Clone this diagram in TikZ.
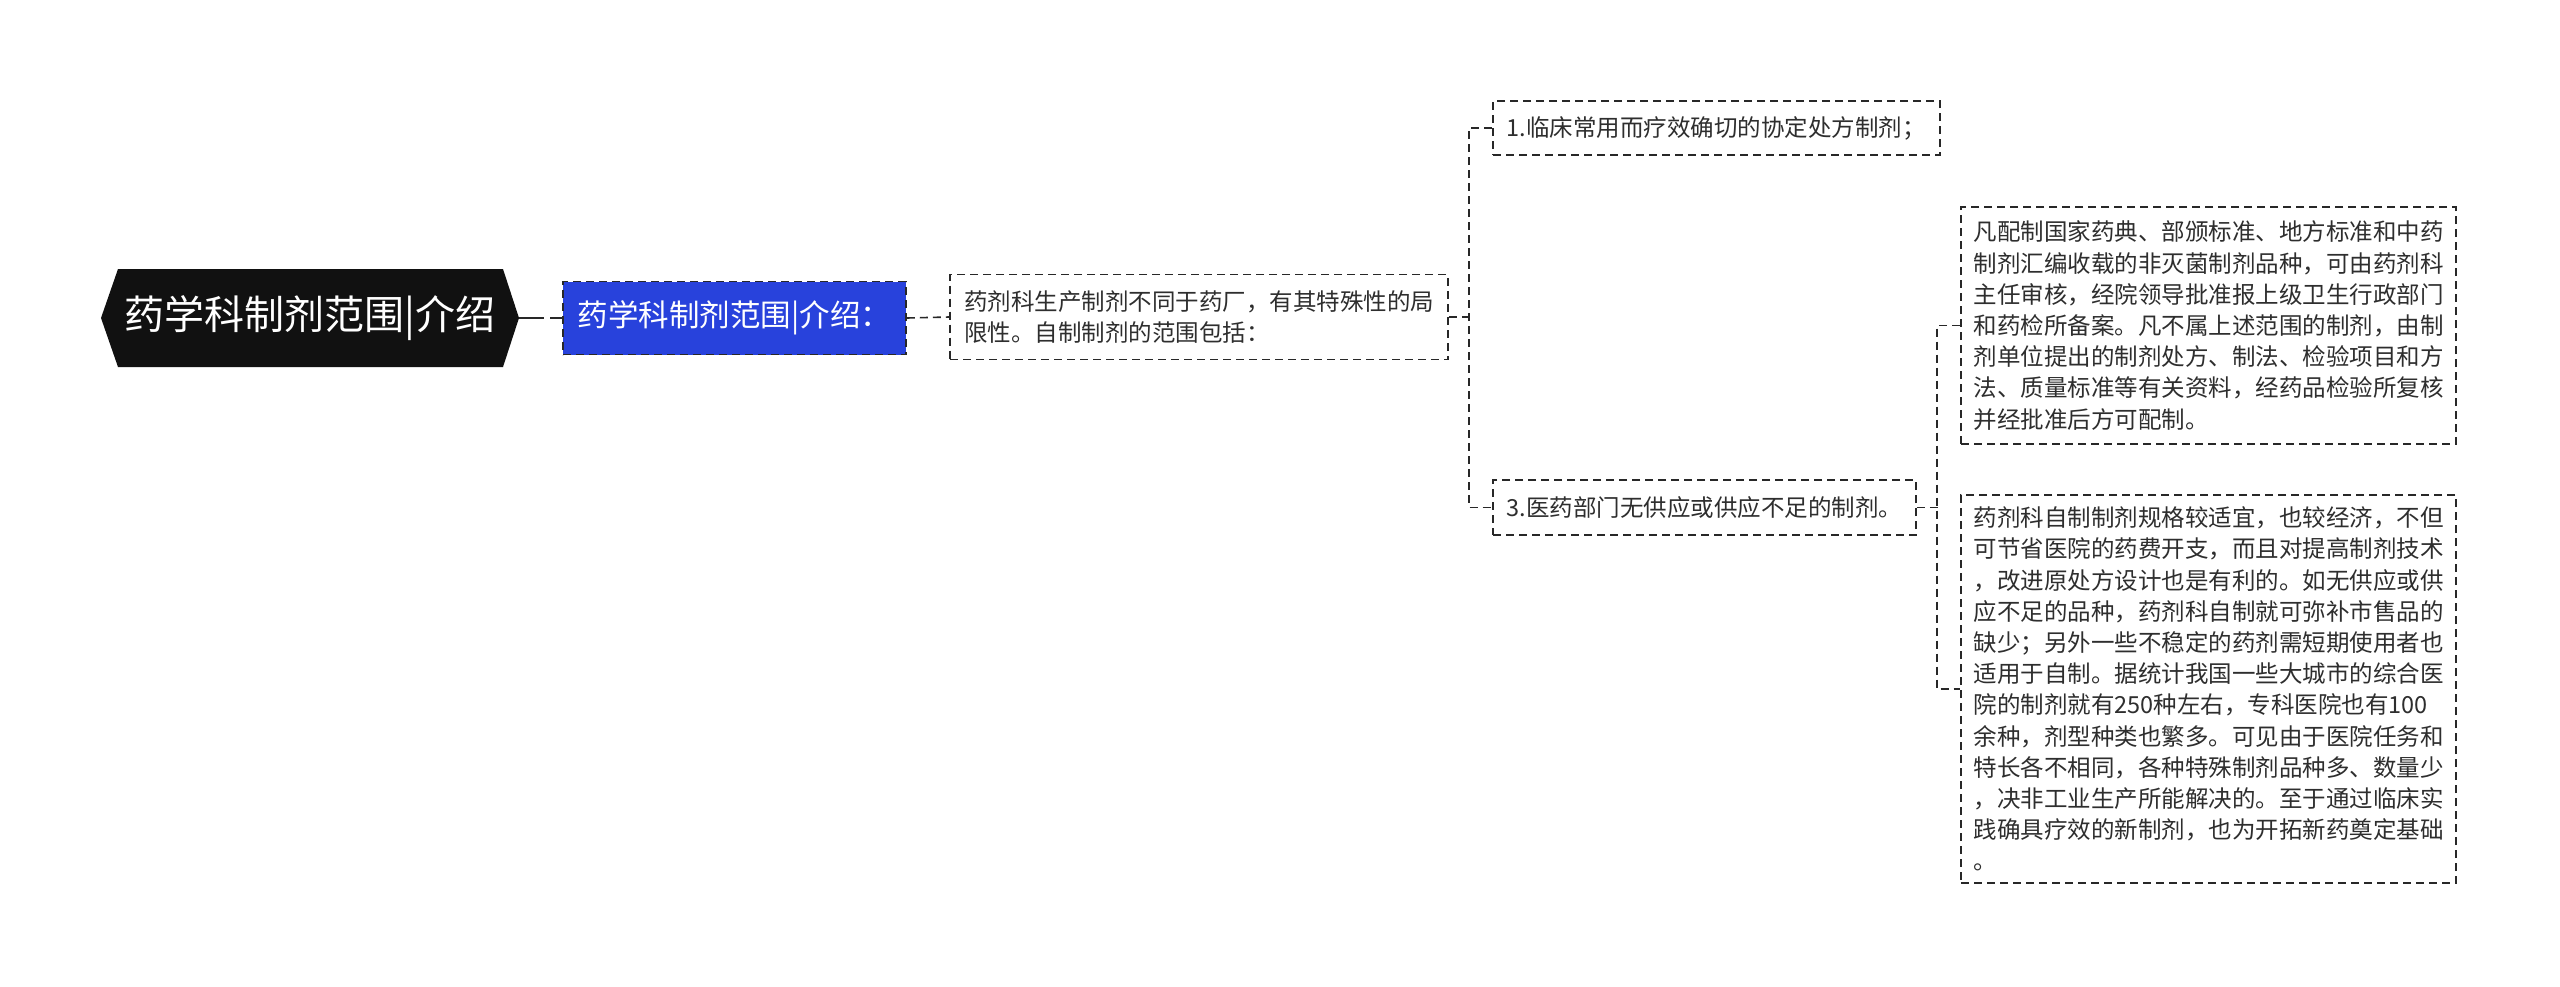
\documentclass[tikz,border=0pt]{standalone}
\usepackage{fontspec}
\setmainfont{Noto Sans CJK SC}
\definecolor{rootfill}{RGB}{17,17,17}
\definecolor{bluefill}{RGB}{40,66,220}
\definecolor{linec}{RGB}{40,40,40}
\tikzset{
  dline/.style={draw=linec, line width=1.6pt, dash pattern=on 8pt off 5pt},
  leaf/.style={dline, fill=white, inner sep=0pt, align=left, font=\fontsize{23.5}{31.2}\selectfont, text=black!82},
  conn/.style={draw=linec, line width=1.6pt, dash pattern=on 8pt off 5pt},
}
\begin{document}
\begin{tikzpicture}[x=1pt,y=-1pt]
\useasboundingbox (0,0) rectangle (2560,986);
% root hexagon
\fill[rootfill] (101,318) -- (118,269) -- (503,269) -- (519,318) -- (503,367) -- (118,367) -- cycle;
\node[text=white, font=\fontsize{40}{44}\selectfont] (root) at (310,318) {药学科制剂范围|介绍};
\coordinate (rootE) at (519,318);
% blue node
\node[draw=linec, line width=1.6pt, dash pattern=on 8pt off 5pt, fill=bluefill, minimum width=343pt, minimum height=73pt, inner sep=0pt, text=white, font=\fontsize{30.5}{34}\selectfont] (blue) at (734.5,318) {药学科制剂范围|介绍：};
% node3
\node[leaf, minimum width=498pt, minimum height=85pt, text width=470pt] (n3) at (1199,317) {药剂科生产制剂不同于药厂，有其特殊性的局\\限性。自制制剂的范围包括：};
% box 1
\node[leaf, minimum width=447pt, minimum height=54pt, text width=420pt] (b1) at (1716.5,128) {1.临床常用而疗效确切的协定处方制剂；};
% box 3
\node[leaf, minimum width=423pt, minimum height=55pt, text width=396pt] (b3) at (1704.5,507.5) {3.医药部门无供应或供应不足的制剂。};
% box A
\node[leaf, minimum width=495pt, minimum height=237pt, text width=470pt] (ba) at (2208.5,325.5) {凡配制国家药典、部颁标准、地方标准和中药\\制剂汇编收载的非灭菌制剂品种，可由药剂科\\主任审核，经院领导批准报上级卫生行政部门\\和药检所备案。凡不属上述范围的制剂，由制\\剂单位提出的制剂处方、制法、检验项目和方\\法、质量标准等有关资料，经药品检验所复核\\并经批准后方可配制。};
% box B
\node[leaf, minimum width=495pt, minimum height=388pt, text width=470pt] (bb) at (2208.5,689) {药剂科自制制剂规格较适宜，也较经济，不但\\可节省医院的药费开支，而且对提高制剂技术\\，改进原处方设计也是有利的。如无供应或供\\应不足的品种，药剂科自制就可弥补市售品的\\缺少；另外一些不稳定的药剂需短期使用者也\\适用于自制。据统计我国一些大城市的综合医\\院的制剂就有250种左右，专科医院也有100\\余种，剂型种类也繁多。可见由于医院任务和\\特长各不相同，各种特殊制剂品种多、数量少\\，决非工业生产所能解决的。至于通过临床实\\践确具疗效的新制剂，也为开拓新药奠定基础\\。};
% connectors
\draw[draw=linec, line width=2.6pt, dash pattern=on 25pt off 6pt] (rootE) -- (blue.west);
\draw[conn] (blue.east) -- (n3.west);
\draw[conn] (n3.east) -- ++(22,0) coordinate (v1);
\draw[conn] (b1.west) -- ++(-23,0) coordinate (v1t) |- (b3.west);
\draw[conn] (b3.east) -- ++(22,0) coordinate (v2);
\draw[conn] (ba.west) -- ++(-23,0) |- (bb.west);
\end{tikzpicture}
\end{document}
